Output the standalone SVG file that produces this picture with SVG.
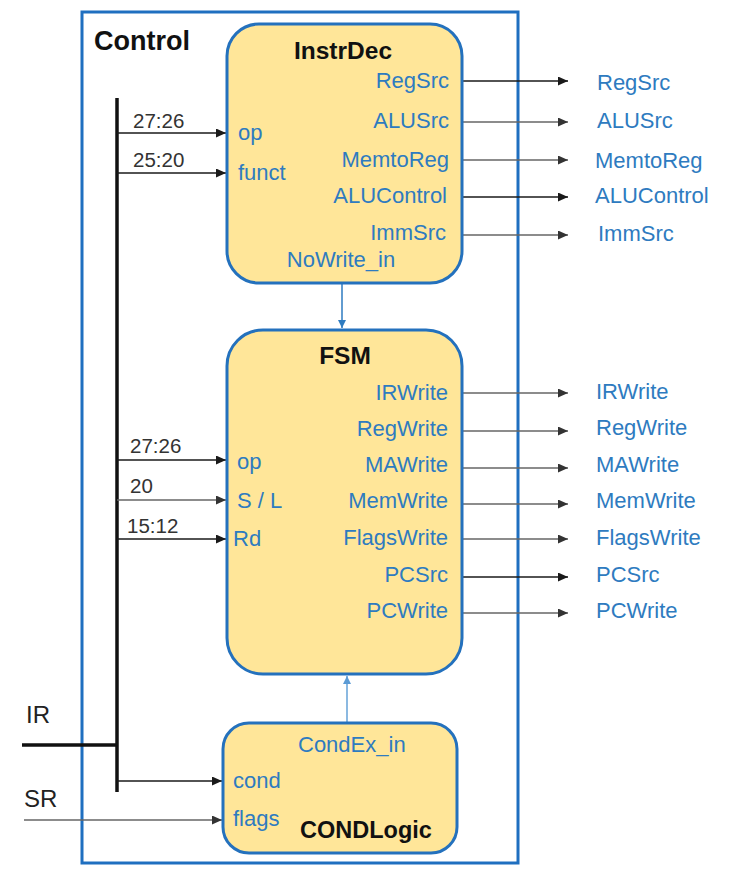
<svg xmlns="http://www.w3.org/2000/svg" width="730" height="878" viewBox="0 0 730 878">
<style>
.box{fill:#ffe699;stroke:#2471bd;stroke-width:3}
.title{font-family:"Liberation Sans",Arial,sans-serif;font-weight:bold;fill:#111}
.sig{font-family:"Liberation Sans",Arial,sans-serif;font-size:22px;fill:#2e7bc0}
.bits{font-family:"Liberation Sans",Arial,sans-serif;font-size:20.5px;fill:#333}
.ext{font-family:"Liberation Sans",Arial,sans-serif;font-size:24px;fill:#222}
.dk{stroke:#1a1a1a;stroke-width:1.7;fill:none}
.gr{stroke:#666;stroke-width:1.5;fill:none}
.bl{stroke:#2e7bc0;stroke-width:1.5;fill:none}
.lb{stroke:#7fb2de;stroke-width:1.8;fill:none}
.bus{stroke:#111;stroke-width:3.5;fill:none}
</style>
<defs>
<marker id="ahd" markerUnits="userSpaceOnUse" markerWidth="11" markerHeight="9" refX="10" refY="4.5" orient="auto"><path d="M0,0 L10,4.5 L0,9 z" fill="#1a1a1a"/></marker>
<marker id="ahg" markerUnits="userSpaceOnUse" markerWidth="11" markerHeight="9" refX="10" refY="4.5" orient="auto"><path d="M0,0 L10,4.5 L0,9 z" fill="#333"/></marker>
<marker id="ahb" markerUnits="userSpaceOnUse" markerWidth="9" markerHeight="8" refX="8" refY="4" orient="auto"><path d="M0,0 L8,4 L0,8 z" fill="#2e7bc0"/></marker>
<marker id="ahl" markerUnits="userSpaceOnUse" markerWidth="9" markerHeight="8" refX="8" refY="4" orient="auto"><path d="M0,0 L8,4 L0,8 z" fill="#5b9bd5"/></marker>
</defs>
<rect width="730" height="878" fill="#fff"/>

<g id="control">
<rect x="82" y="12" width="436" height="851" fill="none" stroke="#1f6fc0" stroke-width="3"/>
<text class="title" x="94" y="50" font-size="27">Control</text>
</g>

<g id="connectors">
<line class="bus" x1="117" y1="98" x2="117" y2="792"/>
<line class="bus" x1="22" y1="745" x2="117" y2="745"/>
<line class="dk" x1="117" y1="133" x2="226" y2="133" marker-end="url(#ahd)"/>
<line class="dk" x1="117" y1="173" x2="226" y2="173" marker-end="url(#ahd)"/>
<line class="dk" x1="117" y1="460" x2="226" y2="460" marker-end="url(#ahd)"/>
<line class="gr" x1="117" y1="500" x2="226" y2="500" marker-end="url(#ahg)"/>
<line class="dk" x1="117" y1="539" x2="226" y2="539" marker-end="url(#ahd)"/>
<line class="dk" x1="117" y1="781" x2="222" y2="781" marker-end="url(#ahd)"/>
<line class="gr" x1="24" y1="820" x2="222" y2="820" marker-end="url(#ahg)"/>
<line class="dk" x1="462" y1="81" x2="568" y2="81" marker-end="url(#ahd)"/>
<line class="gr" x1="462" y1="122" x2="568" y2="122" marker-end="url(#ahg)"/>
<line class="gr" x1="462" y1="160" x2="568" y2="160" marker-end="url(#ahg)"/>
<line class="dk" x1="462" y1="197" x2="568" y2="197" marker-end="url(#ahd)"/>
<line class="gr" x1="462" y1="235" x2="568" y2="235" marker-end="url(#ahg)"/>
<line class="gr" x1="462" y1="393" x2="568" y2="393" marker-end="url(#ahg)"/>
<line class="gr" x1="462" y1="431" x2="568" y2="431" marker-end="url(#ahg)"/>
<line class="gr" x1="462" y1="468" x2="568" y2="468" marker-end="url(#ahg)"/>
<line class="gr" x1="462" y1="504" x2="568" y2="504" marker-end="url(#ahg)"/>
<line class="gr" x1="462" y1="539" x2="568" y2="539" marker-end="url(#ahg)"/>
<line class="dk" x1="462" y1="577" x2="568" y2="577" marker-end="url(#ahd)"/>
<line class="gr" x1="462" y1="613" x2="568" y2="613" marker-end="url(#ahg)"/>
<line class="bl" x1="342" y1="283" x2="342" y2="328" marker-end="url(#ahb)"/>
<line class="lb" x1="347" y1="723" x2="347" y2="676" marker-end="url(#ahl)"/>
<text class="bits" x="133" y="128">27:26</text>
<text class="bits" x="133" y="167">25:20</text>
<text class="bits" x="130" y="453">27:26</text>
<text class="bits" x="130" y="493">20</text>
<text class="bits" x="127" y="533">15:12</text>
<text class="ext" x="26" y="723">IR</text>
<text class="ext" x="24" y="807">SR</text>
</g>

<g id="instrdec">
<rect class="box" x="227" y="24" width="235" height="259" rx="32"/>
<text class="title" x="343" y="59" font-size="24.5" text-anchor="middle">InstrDec</text>
<text class="sig" x="238" y="140">op</text>
<text class="sig" x="238" y="180">funct</text>
<g text-anchor="end">
<text class="sig" x="449" y="88">RegSrc</text>
<text class="sig" x="449" y="128">ALUSrc</text>
<text class="sig" x="449" y="167">MemtoReg</text>
<text class="sig" x="447" y="203">ALUControl</text>
<text class="sig" x="446" y="240">ImmSrc</text>
</g>
<text class="sig" x="341" y="267" text-anchor="middle">NoWrite_in</text>
</g>

<g id="fsm">
<rect class="box" x="227" y="330" width="235" height="344" rx="36"/>
<text class="title" x="345" y="364" font-size="24.5" text-anchor="middle">FSM</text>
<text class="sig" x="237" y="469">op</text>
<text class="sig" x="237" y="508">S / L</text>
<text class="sig" x="233" y="546">Rd</text>
<g text-anchor="end">
<text class="sig" x="448" y="400">IRWrite</text>
<text class="sig" x="448" y="436">RegWrite</text>
<text class="sig" x="448" y="472">MAWrite</text>
<text class="sig" x="448" y="508">MemWrite</text>
<text class="sig" x="448" y="545">FlagsWrite</text>
<text class="sig" x="448" y="582">PCSrc</text>
<text class="sig" x="448" y="618">PCWrite</text>
</g>
</g>

<g id="condlogic">
<rect class="box" x="223" y="723" width="234" height="130" rx="26"/>
<text class="sig" x="298" y="752">CondEx_in</text>
<text class="sig" x="233" y="788">cond</text>
<text class="sig" x="233" y="826">flags</text>
<text class="title" x="366" y="838" font-size="23.5" text-anchor="middle">CONDLogic</text>
</g>

<g id="outputs">
<text class="sig" x="597" y="90">RegSrc</text>
<text class="sig" x="597" y="128">ALUSrc</text>
<text class="sig" x="595" y="168">MemtoReg</text>
<text class="sig" x="595" y="203">ALUControl</text>
<text class="sig" x="598" y="241">ImmSrc</text>
<text class="sig" x="596" y="399">IRWrite</text>
<text class="sig" x="596" y="435">RegWrite</text>
<text class="sig" x="596" y="472">MAWrite</text>
<text class="sig" x="596" y="508">MemWrite</text>
<text class="sig" x="596" y="545">FlagsWrite</text>
<text class="sig" x="596" y="582">PCSrc</text>
<text class="sig" x="596" y="618">PCWrite</text>
</g>
</svg>
